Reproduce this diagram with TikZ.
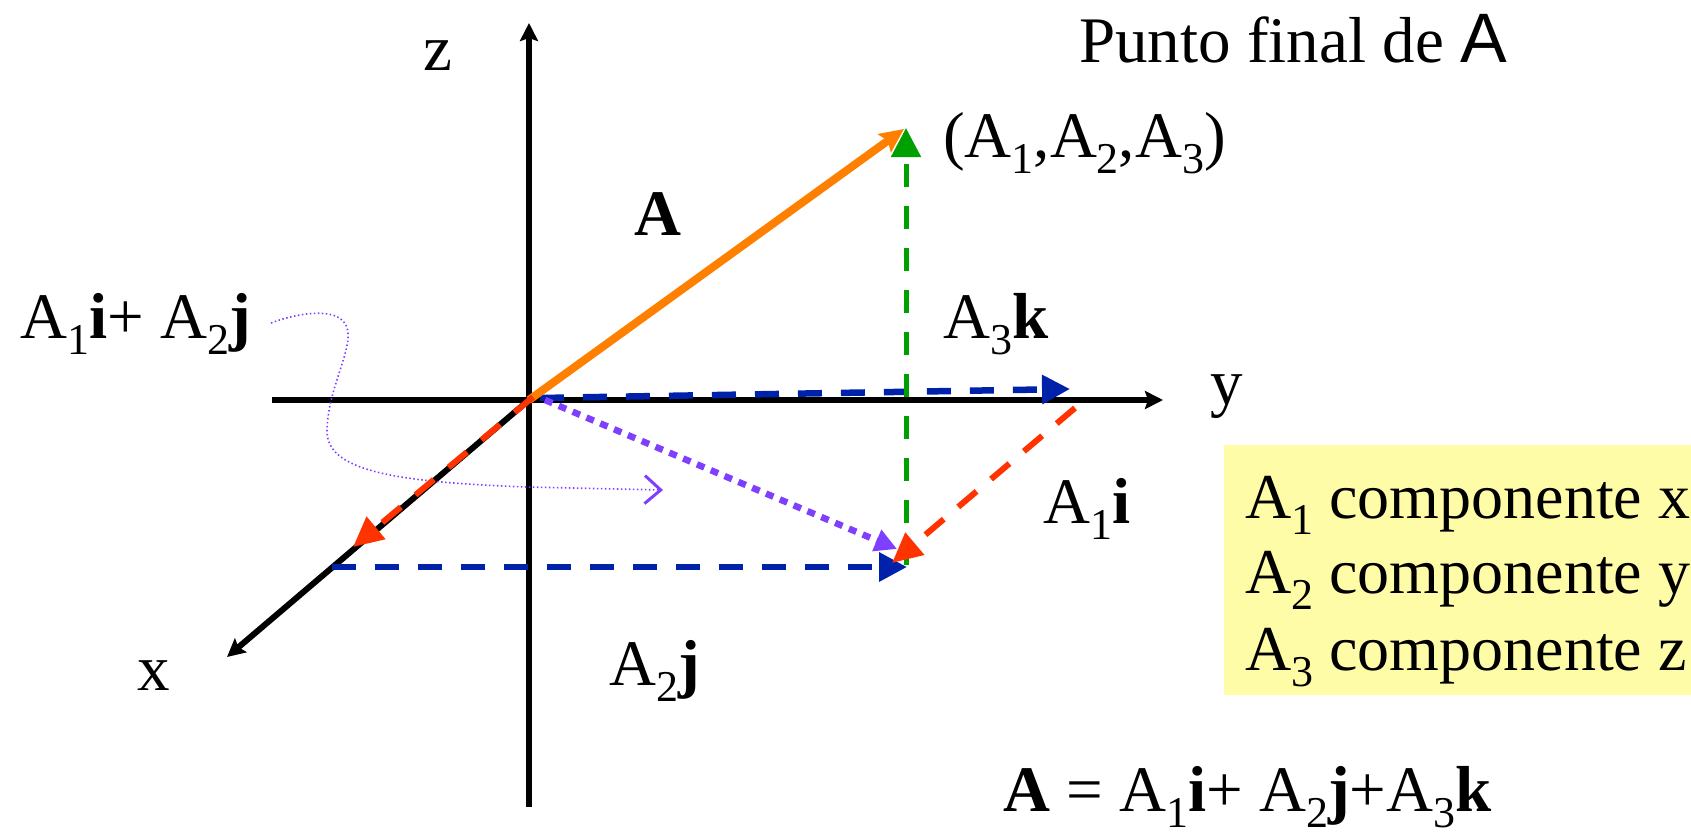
\documentclass[tikz,border=0pt]{standalone}
\usepackage{fontspec}
\setmainfont{Liberation Serif}
\newfontfamily\sansA{Liberation Sans}
\usetikzlibrary{arrows.meta}
\definecolor{vorange}{RGB}{255,128,0}
\definecolor{vgreen}{RGB}{0,160,0}
\definecolor{vblue}{RGB}{0,34,170}
\definecolor{vred}{RGB}{255,51,0}
\definecolor{vpurple}{RGB}{127,63,255}
\definecolor{vyellow}{RGB}{255,252,168}
\newcommand\sbs[1]{\raisebox{-16pt}{\fontsize{44}{44}\selectfont #1}}
\begin{document}
\begin{tikzpicture}[x=1pt,y=-1pt,
  axisline/.style={line width=6pt,-{Stealth[length=18pt,width=18pt,inset=3pt]}},
  lbl/.style={anchor=base west,inner sep=0pt,font=\fontsize{65}{78}\selectfont},
  boxlbl/.style={anchor=base west,inner sep=0pt,font=\fontsize{64}{76}\selectfont},
  bluedash/.style={vblue,line width=6.5pt,dash pattern=on 24pt off 19pt,-{Triangle[length=28pt,width=28pt]}},
  reddash/.style={vred,line width=6pt,dash pattern=on 24pt off 19pt,-{Triangle[length=30pt,width=28pt]}},
  greendash/.style={vgreen,line width=5pt,dash pattern=on 23pt off 19pt,-{Triangle[length=29pt,width=29pt]}},
  purpledot/.style={vpurple,line width=6.5pt,dash pattern=on 8pt off 7pt,-{Triangle[length=22pt,width=22pt]}},
  thindot/.style={vpurple,line width=1.6pt,dash pattern=on 1.5pt off 2.5pt,-{Straight Barb[length=16pt,width=28pt,line width=3pt]}},
  vecA/.style={vorange,line width=8pt,-{Stealth[length=24pt,width=22pt,inset=4pt]}}]
\useasboundingbox (0,0) rectangle (1691,839);
% coordinates
\coordinate (O) at (529,400);
\coordinate (ztop) at (529,23);
\coordinate (zbot) at (529,807);
\coordinate (yleft) at (272,400);
\coordinate (ytip) at (1163,400);
\coordinate (xtip) at (227,657);
\coordinate (P) at (906,128);
\coordinate (Ptip) at (904,129);
\coordinate (Q) at (906,565);
\coordinate (b1s) at (540,398);
\coordinate (b1e) at (1070,389);
\coordinate (b2s) at (332,567);
\coordinate (b2e) at (907,567);
\coordinate (r1s) at (533,397);
\coordinate (r1e) at (353,547);
\coordinate (r2s) at (1075,408);
\coordinate (r2e) at (892,563);
\coordinate (ps) at (545,400);
\coordinate (pe) at (897,549);
\coordinate (cs) at (271,323);
\coordinate (ce) at (663,490);
% yellow box
\fill[vyellow] (1224,445) rectangle (1691,695);
% axes
\draw[axisline] (zbot) -- (ztop);
\draw[axisline] (yleft) -- (ytip);
\draw[axisline] (O) -- (xtip);
% thin dotted curve
\draw[thindot] (cs) .. controls (300,312) and (345,305) .. (348,332)
  .. controls (350,355) and (328,390) .. (327,430)
  .. controls (326,470) and (390,482) .. (527,487) -- (ce);
% components
\draw[bluedash] (b1s) -- (b1e);
\draw[bluedash] (b2s) -- (b2e);
\draw[purpledot] (ps) -- (pe);
\draw[vecA] (O) -- (Ptip);
\draw[greendash] (Q) -- (P);
\draw[reddash] (r1s) -- (r1e);
\draw[reddash] (r2s) -- (r2e);
% labels
\node[lbl] (lz) at (423,70) {z};
\node[lbl] (ly) at (1210,404) {y};
\node[lbl] (lx) at (137,690) {x};
\node[lbl] (lpunto) at (1079,62) {Punto final de {\sansA\fontsize{70}{80}\selectfont A}};
\node[lbl] (lcoord) at (943,157) {(A\sbs{1},A\sbs{2},A\sbs{3})};
\node[lbl] (lA) at (634,235) {\textbf{A}};
\node[lbl] (lA3k) at (943,338) {A\sbs{3}\textbf{k}};
\node[lbl] (lsum) at (20,338) {A\sbs{1}\textbf{i}+ A\sbs{2}\textbf{j}};
\node[lbl] (lA1i) at (1043,523) {A\sbs{1}\textbf{i}};
\node[lbl] (lA2j) at (609,685) {A\sbs{2}\textbf{j}};
\node[boxlbl] (c1) at (1245,518) {A\sbs{1} componente x};
\node[boxlbl] (c2) at (1245,593) {A\sbs{2} componente y};
\node[boxlbl] (c3) at (1245,670) {A\sbs{3} componente z};
\node[lbl] (lform) at (1003,811) {\textbf{A} = A\sbs{1}\textbf{i}+ A\sbs{2}\textbf{j}+A\sbs{3}\textbf{k}};
\end{tikzpicture}
\end{document}
